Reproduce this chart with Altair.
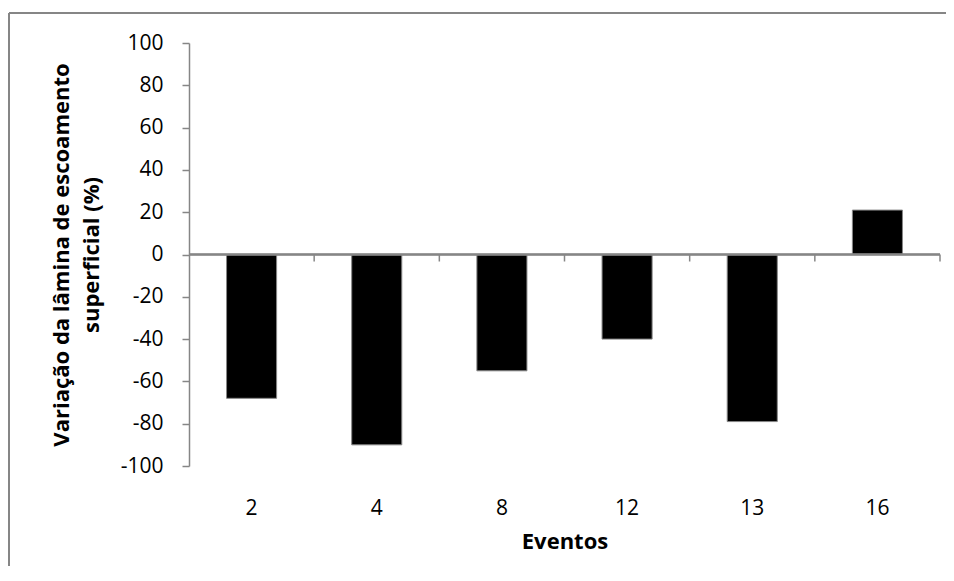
import altair as alt
import pandas as pd

eventos = ["2", "4", "8", "12", "13", "16"]
variacao = [-68, -90, -55, -40, -79, 21]

df = pd.DataFrame({"evento": eventos, "variacao": variacao})

FONT = "Open Sans"
GRAY = "#868686"
W, H = 751, 423

xscale = alt.Scale(domain=eventos, paddingInner=0, paddingOuter=0)
yscale = alt.Scale(domain=[-100, 100], nice=False)

base = alt.Chart(df)

bars = base.mark_bar(
    color="black", stroke=GRAY, strokeWidth=1, width=alt.RelativeBandSize(0.4)
).encode(
    x=alt.X(
        "evento:N", scale=xscale, sort=eventos,
        axis=alt.Axis(
            title="Eventos", domain=False, ticks=False, labelAngle=0,
            labelPadding=31, labelFontSize=21, labelFont=FONT, labelColor="black",
            titleFont=FONT, titleFontSize=22, titleFontWeight="bold",
            titleColor="black", titlePadding=13,
        ),
    ),
    y=alt.Y(
        "variacao:Q", scale=yscale,
        axis=alt.Axis(
            title=["Variação da lâmina de escoamento", "superficial (%)"],
            values=list(range(-100, 101, 20)), grid=False,
            labelExpr="'' + datum.value",
            domainColor=GRAY, domainWidth=1.5, tickColor=GRAY, tickWidth=1.5,
            tickSize=7, labelPadding=19, labelFontSize=21, labelFont=FONT,
            labelColor="black", titleFont=FONT, titleFontSize=22,
            titleFontWeight="bold", titleColor="black", titlePadding=17,
            titleLineHeight=30,
        ),
    ),
)

zero = base.mark_rule(color=GRAY, strokeWidth=1.5).encode(
    x=alt.value(0), x2=alt.value(W), y=alt.datum(0, scale=yscale)
)

ticks = base.mark_rule(color=GRAY, strokeWidth=1.5, y2Offset=7).encode(
    x=alt.X("evento:N", scale=xscale, sort=eventos, bandPosition=1),
    y=alt.datum(0, scale=yscale),
    y2=alt.datum(0),
)

frame_top = base.mark_rule(color=GRAY, strokeWidth=1.5).encode(
    x=alt.value(-180), x2=alt.value(W + 6), y=alt.value(-30)
)
frame_left = base.mark_rule(color=GRAY, strokeWidth=1.5).encode(
    x=alt.value(-180), y=alt.value(-30), y2=alt.value(H + 100)
)

chart = alt.layer(frame_top, frame_left, bars, zero, ticks).properties(
    width=W, height=H,
    autosize=alt.AutoSizeParams(type="none"),
    padding={"left": 181, "top": 35, "right": 6, "bottom": 100},
).configure(background="white").configure_view(strokeWidth=0)

chart.save("out.html", embed_options={"renderer": "svg", "actions": False})
